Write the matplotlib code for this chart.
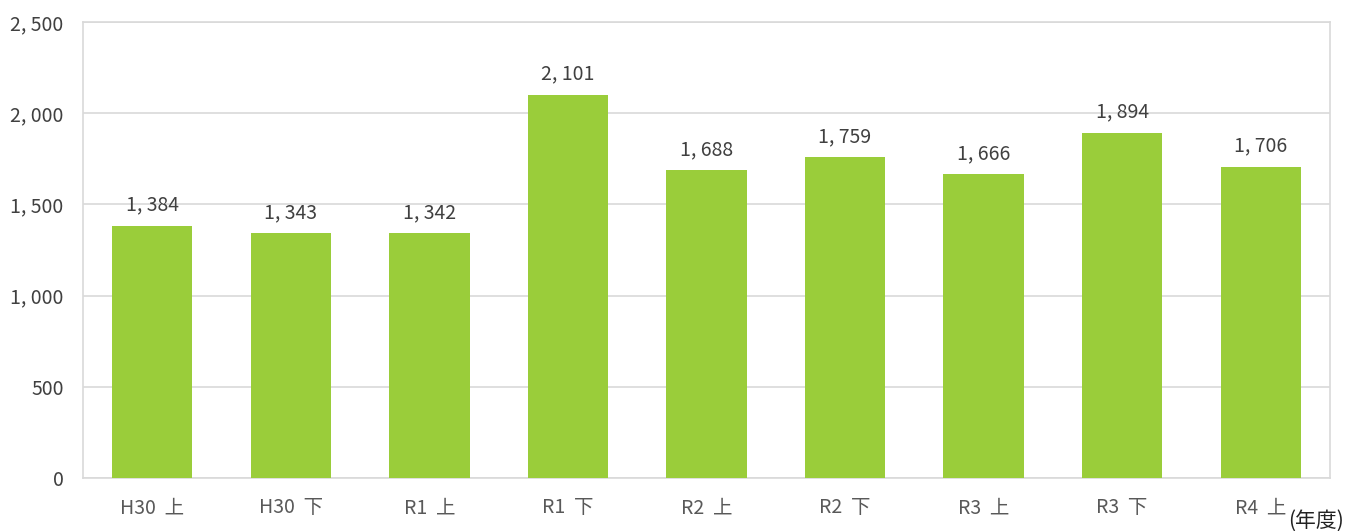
import matplotlib
matplotlib.use("Agg")
import matplotlib.pyplot as plt
import numpy as np

plt.rcParams['font.family'] = ['Noto Sans CJK JP', 'DejaVu Sans']

categories = ['H30  上', 'H30  下', 'R1  上', 'R1  下', 'R2  上', 'R2  下', 'R3  上', 'R3  下', 'R4  上']
values = [1384, 1343, 1342, 2101, 1688, 1759, 1666, 1894, 1706]
yticks = [0, 500, 1000, 1500, 2000, 2500]


def fmt(v):
    return f'{v:,}'.replace(',', ', ')


fig = plt.figure(figsize=(13.46, 5.31), dpi=100)
ax = fig.add_axes([83 / 1346, 1 - 478 / 531, (1330 - 83) / 1346, (478 - 22) / 531])

x = np.arange(len(categories))
ax.bar(x, values, width=0.58, color='#9ACD3A', zorder=3)
for xi, v in zip(x, values):
    ax.text(xi, v + 55, fmt(v), ha='center', va='bottom', fontsize=14, color='#404040')

ax.set_xlim(-0.5, len(categories) - 0.5)
ax.set_ylim(0, 2500)
ax.set_yticks(yticks)
ax.set_yticklabels([fmt(t) for t in yticks], fontsize=14, color='#404040')
ax.set_xticks(x)
ax.set_xticklabels(categories, fontsize=14, color='#595959')
ax.tick_params(axis='both', length=0)
ax.tick_params(axis='y', pad=14)
ax.tick_params(axis='x', pad=14)
ax.yaxis.grid(True, color='#D9D9D9', linewidth=1.2, zorder=0)
for s in ax.spines.values():
    s.set_color('#D9D9D9')
    s.set_linewidth(1.2)

fig.text(1344 / 1346, 1 - 521 / 531, '(年度)', ha='right', va='center', fontsize=15, color='#222222')

fig.savefig('out.png', dpi=100)
